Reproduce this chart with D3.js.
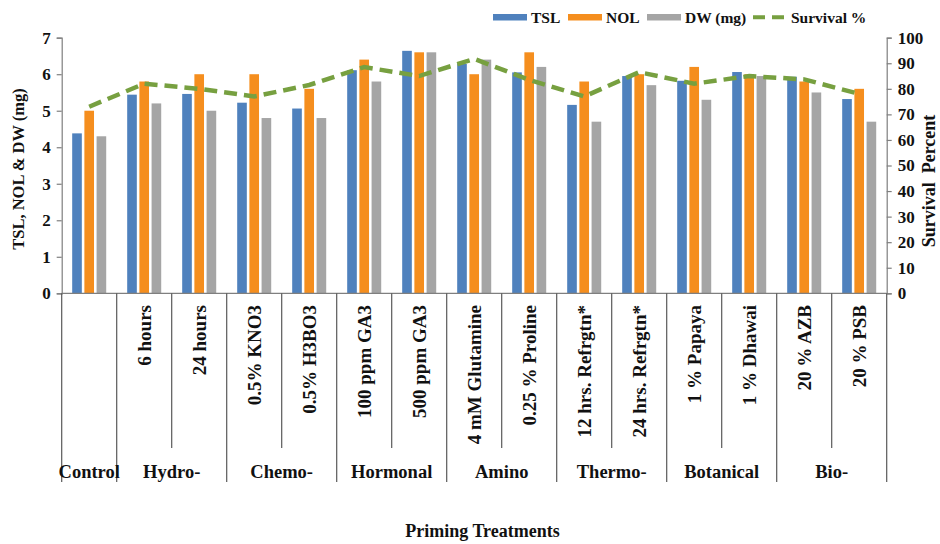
<!DOCTYPE html>
<html>
<head>
<meta charset="utf-8">
<script src="https://cdn.jsdelivr.net/npm/d3@7"></script>
<style>
  html, body { margin: 0; padding: 0; background: #fff; }
  svg text { font-family: "Liberation Serif", "Times New Roman", serif; font-weight: bold; fill: #111; }
</style>
</head>
<body>
<svg id="chart" width="940" height="544"></svg>
<script>
// ---- data ----
const categories = ["Control", "6 hours", "24 hours", "0.5% KNO3", "0.5% H3BO3", "100 ppm GA3", "500 ppm GA3",
  "4 mM Glutamine", "0.25 % Proline", "12 hrs. Refrgtn*", "24 hrs. Refrgtn*", "1 % Papaya", "1 % Dhawai", "20 % AZB", "20 % PSB"];
const groups = ["Control", "Hydro-", "Chemo-", "Hormonal", "Amino", "Thermo-", "Botanical", "Bio-"];
const groupSizes = [1, 2, 2, 2, 2, 2, 2, 2];
const seriesNames = ["TSL", "NOL", "DW (mg)"];
const tsl = [4.38, 5.44, 5.46, 5.22, 5.06, 6.11, 6.64, 6.28, 6.05, 5.16, 5.95, 5.82, 6.06, 5.93, 5.32];
const nol = [5.0, 5.8, 6.0, 6.0, 5.6, 6.4, 6.6, 6.0, 6.6, 5.8, 6.0, 6.2, 6.0, 5.8, 5.6];
const dw  = [4.3, 5.2, 5.0, 4.8, 4.8, 5.8, 6.6, 6.4, 6.2, 4.7, 5.7, 5.3, 5.95, 5.5, 4.7];
const survival = [73, 82, 80, 77, 81.5, 88.5, 85, 91.7, 83.5, 77, 86.5, 82, 85, 83.7, 78];
const leftTicks = [0, 1, 2, 3, 4, 5, 6, 7];
const rightTicks = [0, 10, 20, 30, 40, 50, 60, 70, 80, 90, 100];
const colors = { "TSL": "#4f81bd", "NOL": "#f58e1e", "DW (mg)": "#a5a5a5", line: "#77a040" };

// ---- layout ----
const svg = d3.select("#chart");
const L = 61.7, R = 886.7, T = 37.7, B = 293.3;

const x0 = d3.scaleBand().domain(categories).range([L, R]).padding(0);
const x1 = d3.scaleBand().domain(seriesNames).range([0, x0.bandwidth()]).paddingInner(0.21).paddingOuter(0.86);
const yL = d3.scaleLinear().domain([0, 7]).range([B, T]);
const yR = d3.scaleLinear().domain([0, 100]).range([B, T]);

const seriesData = seriesNames.map((s, i) => ({ name: s, values: [tsl, nol, dw][i] }));

// bars
const g = svg.append("g");
seriesData.forEach(s => {
  g.selectAll(null).data(s.values).enter().append("rect")
    .attr("x", (d, i) => x0(categories[i]) + x1(s.name))
    .attr("width", x1.bandwidth())
    .attr("y", d => yL(d))
    .attr("height", d => yL(0) - yL(d))
    .attr("fill", colors[s.name]);
});

// survival line
const line = d3.line()
  .x((d, i) => x0(categories[i]) + x0.bandwidth() / 2)
  .y(d => yR(d));
svg.append("path").datum(survival)
  .attr("d", line)
  .attr("fill", "none")
  .attr("stroke", colors.line)
  .attr("stroke-width", 4.5)
  .attr("stroke-dasharray", "13,7");

// axes
const axisColor = "#7f7f7f";
const leftAxis = svg.append("g").attr("transform", `translate(${L},0)`)
  .call(d3.axisLeft(yL).tickValues(leftTicks).tickSize(5).tickPadding(6).tickFormat(d3.format("d")));
const rightAxis = svg.append("g").attr("transform", `translate(${R},0)`)
  .call(d3.axisRight(yR).tickValues(rightTicks).tickSize(5).tickPadding(6).tickFormat(d3.format("d")));
[leftAxis, rightAxis].forEach(a => {
  a.select(".domain").attr("stroke", axisColor).attr("stroke-width", 1.2);
  a.selectAll(".tick line").attr("stroke", axisColor).attr("stroke-width", 1.2);
  a.selectAll(".tick text").style("font-size", "17px").attr("fill", "#111");
});

// x axis baseline
svg.append("line").attr("x1", L).attr("x2", R).attr("y1", B).attr("y2", B)
  .attr("stroke", axisColor).attr("stroke-width", 1.2);

// category separators (short inside groups, long at group borders)
let idx = 0;
const groupStarts = [];
groupSizes.forEach(n => { groupStarts.push(idx); idx += n; });
const isGroupStart = new Set(groupStarts.concat([categories.length]));
for (let i = 0; i <= categories.length; i++) {
  const xpos = i < categories.length ? x0(categories[i]) : R;
  svg.append("line").attr("x1", xpos).attr("x2", xpos)
    .attr("y1", B).attr("y2", isGroupStart.has(i) ? 482 : 448)
    .attr("stroke", "#595959").attr("stroke-width", 1.2);
}

// rotated category labels (skip Control)
categories.forEach((c, i) => {
  if (i === 0) return;
  const cx = x0(c) + x0.bandwidth() / 2;
  svg.append("text")
    .attr("transform", `translate(${cx},305) rotate(-90)`)
    .attr("text-anchor", "end")
    .attr("dy", "0.35em")
    .style("font-size", "19px")
    .text(c);
});

// group labels
groups.forEach((gname, k) => {
  const start = groupStarts[k], n = groupSizes[k];
  const gx = (x0(categories[start]) + x0(categories[start + n - 1]) + x0.bandwidth()) / 2;
  svg.append("text").attr("x", gx).attr("y", 478)
    .attr("text-anchor", "middle").style("font-size", "18.5px").text(gname);
});

// axis titles
svg.append("text").attr("transform", `translate(24,169) rotate(-90)`)
  .attr("text-anchor", "middle").style("font-size", "16.5px").text("TSL, NOL & DW (mg)");
svg.append("text").attr("transform", `translate(935,181) rotate(-90)`)
  .attr("text-anchor", "middle").style("font-size", "18px")
  .text("Survival\u00a0\u00a0Percent");
svg.append("text").attr("x", 482.5).attr("y", 537)
  .attr("text-anchor", "middle").style("font-size", "18px").text("Priming Treatments");

// legend
const legend = svg.append("g");
const legItems = [
  { name: "TSL", x: 493, type: "bar" },
  { name: "NOL", x: 568, type: "bar" },
  { name: "DW (mg)", x: 647, type: "bar" },
  { name: "Survival %", x: 753, type: "line" }
];
legItems.forEach(it => {
  if (it.type === "bar") {
    legend.append("rect").attr("x", it.x).attr("y", 14).attr("width", 34).attr("height", 6.5)
      .attr("fill", colors[it.name]);
  } else {
    legend.append("line").attr("x1", it.x).attr("x2", it.x + 33).attr("y1", 17.3).attr("y2", 17.3)
      .attr("stroke", colors.line).attr("stroke-width", 4).attr("stroke-dasharray", "12,7");
  }
  legend.append("text").attr("x", it.x + 38).attr("y", 17.5).attr("dy", "0.35em")
    .style("font-size", "15.5px").text(it.name);
});
</script>
</body>
</html>
